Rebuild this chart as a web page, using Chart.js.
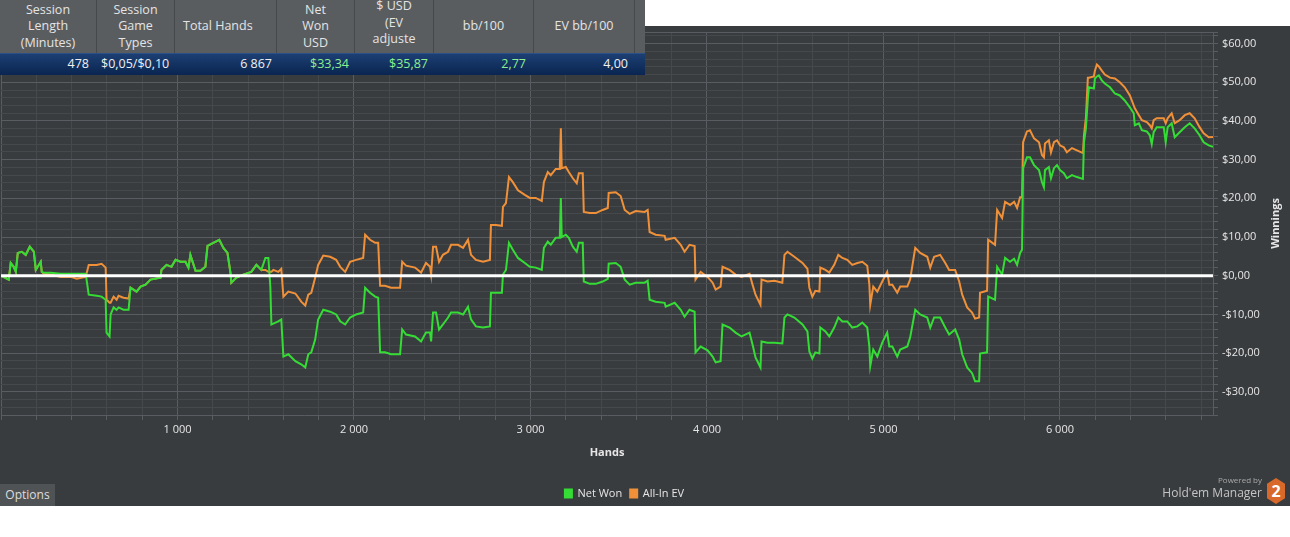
<!DOCTYPE html>
<html>
<head>
<meta charset="utf-8">
<script src="https://cdn.jsdelivr.net/npm/chart.js@4.4.1/dist/chart.umd.min.js"></script>
<style>
  body { margin: 0; background: #fff; width: 1290px; height: 537px; position: relative; overflow: hidden; font-family: "Open Sans", sans-serif; }
  #panel { position: absolute; left: 0; top: 26px; width: 1290px; height: 480px; background: #393c3f; }
  #chart { position: absolute; left: 0; top: 0; }
  #stats { position: absolute; left: 0; top: 0; width: 645px; height: 75px; background: #5a5d60; }
  .hd { position: absolute; top: 0; height: 53px; color: #e4e4e4; font-size: 12.5px; line-height: 16.5px; text-align: center; overflow: hidden; display: flex; flex-direction: column; justify-content: center; box-sizing: border-box; border-right: 1px solid #46494c; }
  .row { position: absolute; top: 53px; left: 0; width: 645px; height: 22px; background: linear-gradient(#1c3f73, #0a2550); border-top: 1px solid #2c4f85; box-sizing: border-box; }
  .cell { position: absolute; top: 53px; height: 22px; line-height: 22px; font-size: 12.5px; color: #f0f0f0; text-align: right; white-space: nowrap; }
  .pos { color: #8ef08e; }
  #opt { position: absolute; left: 0; top: 484px; width: 55px; height: 22px; background: #505356; color: #ddd; font-size: 12px; line-height: 22px; text-align: center; }
  #pow { position: absolute; left: 1180px; width: 82px; top: 474px; font-size: 8px; color: #a8a8a8; text-align: right; }
  #hem { position: absolute; left: 1140px; width: 122px; top: 484px; font-size: 12px; color: #c4c4c4; text-align: right; }
  #hex { position: absolute; left: 1267px; top: 478px; width: 18px; height: 26px; background: #d8692a; clip-path: polygon(50% 0, 100% 22%, 100% 78%, 50% 100%, 0 78%, 0 22%); color: #fff; font-weight: bold; font-size: 16px; line-height: 26px; text-align: center; }
</style>
</head>
<body>
<div id="panel"><canvas id="chart" width="1290" height="480"></canvas></div>

<div id="stats">
  <div class="hd" style="left:0;width:97px"><span>Session</span><span>Length</span><span>(Minutes)</span></div>
  <div class="hd" style="left:97px;width:78px"><span>Session</span><span>Game</span><span>Types</span></div>
  <div class="hd" style="left:175px;width:102px;text-align:left;padding-left:8px"><span>Total Hands</span></div>
  <div class="hd" style="left:277px;width:78px"><span>Net</span><span>Won</span><span>USD</span></div>
  <div class="hd" style="left:355px;width:79px;justify-content:flex-start"><span style="margin-top:-2px">$ USD</span><span>(EV</span><span>adjuste</span></div>
  <div class="hd" style="left:434px;width:100px"><span>bb/100</span></div>
  <div class="hd" style="left:534px;width:101px"><span>EV bb/100</span></div>
  <div class="row"></div>
  <div class="cell" style="left:0;width:89px">478</div>
  <div class="cell" style="left:101px;text-align:left">$0,05/$0,10</div>
  <div class="cell" style="left:175px;width:97px">6 867</div>
  <div class="cell pos" style="left:277px;width:72px">$33,34</div>
  <div class="cell pos" style="left:355px;width:73px">$35,87</div>
  <div class="cell pos" style="left:434px;width:92px">2,77</div>
  <div class="cell" style="left:534px;width:94px">4,00</div>
</div>

<div id="opt">Options</div>
<div id="pow">Powered by</div>
<div id="hem">Hold'em Manager</div>
<div id="hex">2</div>

<script>
const totalHands = 6867;

const hands = [
  0, 44, 55, 72, 84, 95, 118, 140, 163, 186,
  197, 225, 231, 242, 282, 338, 395, 429, 480, 497,
  542, 570, 593, 598, 615, 621, 638, 655, 666, 694,
  723, 734, 768, 791, 819, 847, 904, 909, 938, 966,
  989, 1017, 1045, 1062, 1073, 1102, 1130, 1158, 1170, 1203,
  1237, 1260, 1283, 1300, 1305, 1334, 1373, 1418, 1447, 1475,
  1498, 1515, 1526, 1532, 1543, 1571, 1588, 1600, 1628, 1668,
  1701, 1724, 1741, 1758, 1780, 1797, 1826, 1865, 1899, 1922,
  1950, 1978, 2012, 2052, 2063, 2091, 2120, 2137, 2148, 2176,
  2210, 2261, 2273, 2295, 2346, 2380, 2408, 2431, 2437, 2448,
  2465, 2482, 2504, 2533, 2550, 2589, 2618, 2646, 2663, 2691,
  2731, 2770, 2776, 2804, 2838, 2844, 2861, 2878, 2900, 2929,
  2968, 2996, 3030, 3064, 3076, 3098, 3115, 3143, 3166, 3172,
  3177, 3200, 3217, 3240, 3262, 3274, 3296, 3302, 3336, 3370,
  3409, 3438, 3443, 3483, 3511, 3534, 3562, 3596, 3647, 3664,
  3675, 3709, 3760, 3766, 3817, 3851, 3873, 3901, 3930, 3935,
  3964, 4003, 4032, 4049, 4077, 4088, 4128, 4162, 4196, 4241,
  4258, 4275, 4303, 4309, 4343, 4382, 4427, 4439, 4456, 4495,
  4541, 4569, 4580, 4597, 4614, 4637, 4642, 4671, 4693, 4721,
  4744, 4767, 4795, 4823, 4852, 4880, 4908, 4920, 4925, 4942,
  4965, 4993, 5021, 5033, 5050, 5078, 5095, 5135, 5151, 5180,
  5208, 5248, 5265, 5287, 5321, 5350, 5372, 5406, 5429, 5446,
  5474, 5502, 5519, 5542, 5547, 5587, 5593, 5632, 5644, 5672,
  5689, 5717, 5740, 5757, 5774, 5785, 5791, 5813, 5830, 5853,
  5881, 5898, 5909, 5915, 5937, 5949, 5966, 5983, 6000, 6022,
  6039, 6068, 6096, 6130, 6136, 6147, 6158, 6164, 6192, 6198,
  6209, 6220, 6237, 6254, 6283, 6311, 6339, 6367, 6396, 6418,
  6424, 6447, 6464, 6492, 6509, 6520, 6531, 6548, 6588, 6599,
  6610, 6633, 6650, 6678, 6707, 6735, 6763, 6791, 6814, 6843,
  6867
];

const netWon = [
  0, -1.0, 3.3, 2.3, 1.0, 5.9, 6.2, 5.4, 7.5, 6.2,
  1.5, 3.6, 1.0, 0.8, 0.8, 0.5, 0.5, 0.5, 0.5, -4.9,
  -5.2, -5.4, -6.2, -14.7, -15.7, -10.0, -8.2, -8.8, -8.2, -8.8,
  -8.8, -3.1, -4.1, -2.8, -2.3, -1.0, -0.5, 1.5, 2.8, 2.3,
  4.1, 3.6, 3.6, 2.1, 5.4, 1.3, 1.3, 2.3, 7.7, 8.5,
  9.3, 7.2, 5.9, 0.8, -1.8, -0.5, 0.3, 1.0, 2.8, 1.5,
  4.6, 4.6, -2.8, -12.6, -12.4, -11.8, -11.3, -20.9, -20.3, -22.1,
  -22.9, -23.7, -20.3, -19.8, -16.5, -11.3, -8.8, -9.3, -10.0, -11.8,
  -12.6, -10.8, -10.0, -9.5, -3.1, -4.4, -5.4, -5.7, -19.8, -19.8,
  -20.3, -20.3, -13.9, -15.2, -15.7, -17.0, -14.7, -14.7, -17.0, -9.5,
  -9.5, -13.9, -12.6, -10.8, -9.5, -9.5, -10.0, -8.0, -11.3, -13.1,
  -13.4, -13.1, -4.4, -4.4, -4.4, 0.3, 1.5, 8.5, 6.7, 4.6,
  3.3, 2.3, 2.1, 1.5, 7.2, 8.8, 8.0, 9.8, 9.8, 20.1,
  10.0, 10.6, 9.8, 7.5, 6.2, 8.5, 8.5, -1.5, -2.1, -2.1,
  -1.5, -0.8, 3.1, 3.3, 2.3, -1.0, -2.3, -1.8, -1.8, -1.3,
  -6.2, -6.7, -7.0, -8.0, -7.0, -8.8, -10.6, -8.8, -9.3, -19.8,
  -18.3, -19.3, -20.9, -22.4, -22.1, -12.6, -13.4, -14.7, -15.7, -14.7,
  -17.8, -21.1, -23.7, -17.0, -17.3, -17.3, -17.5, -10.8, -10.0, -10.8,
  -12.6, -14.4, -19.6, -21.4, -19.8, -20.1, -13.4, -14.4, -15.7, -13.4,
  -10.8, -11.8, -11.8, -13.4, -13.1, -12.1, -13.4, -18.3, -23.4, -19.1,
  -20.9, -17.3, -14.7, -18.3, -18.3, -20.9, -19.1, -18.3, -16.0, -8.8,
  -10.0, -10.8, -13.4, -10.8, -10.8, -13.4, -15.2, -13.9, -16.5, -20.3,
  -23.7, -25.2, -27.3, -27.3, -20.1, -19.8, -5.4, -6.2, 2.3, 0.3,
  4.6, 3.6, 4.4, 2.8, 5.9, 6.7, 27.8, 30.6, 30.6, 28.6,
  27.3, 24.2, 22.9, 27.3, 28.1, 25.2, 27.8, 28.6, 27.3, 26.5,
  25.2, 26.0, 25.5, 25.0, 34.5, 38.1, 45.8, 48.7, 48.4, 51.0,
  51.5, 51.8, 50.5, 49.7, 48.7, 47.1, 46.6, 45.3, 43.5, 42.0,
  38.9, 39.4, 37.6, 37.3, 36.3, 34.0, 37.1, 38.4, 38.4, 34.5,
  38.4, 39.4, 35.8, 37.1, 38.4, 39.4, 38.1, 36.3, 34.5, 33.7,
  33.34
];

const allInEv = [
  0, -1.0, 3.3, 2.3, 1.0, 5.9, 6.2, 5.4, 7.5, 6.2,
  1.5, 3.6, 1.0, 0.5, 0.3, -0.3, -0.3, -0.8, -0.3, 2.8,
  2.8, 3.1, 2.1, -6.2, -7.0, -7.0, -5.4, -6.2, -5.2, -5.7,
  -5.9, -3.1, -4.1, -2.8, -2.3, -1.0, -0.5, 1.5, 2.8, 2.3,
  4.1, 3.6, 3.6, 2.1, 5.4, 1.3, 1.3, 2.3, 7.7, 8.5,
  9.3, 7.2, 5.9, 0.8, -1.8, -0.5, 0.3, 1.0, 2.8, 1.5,
  1.5, 1.0, 1.0, 1.0, 1.5, 1.0, 1.8, -5.4, -4.1, -4.6,
  -6.7, -7.7, -4.9, -4.4, -0.5, 2.8, 5.2, 4.9, 4.1, 2.3,
  1.0, 3.6, 4.1, 4.6, 10.6, 9.3, 8.5, 8.5, -2.6, -2.6,
  -3.1, -3.1, 3.6, 2.6, 2.1, 0.8, 3.3, 2.3, 0.3, 7.5,
  7.5, 3.6, 5.4, 6.2, 8.0, 8.0, 7.2, 9.3, 5.4, 4.1,
  3.6, 4.1, 13.1, 13.1, 12.9, 17.8, 18.8, 25.5, 24.2, 22.1,
  20.9, 20.1, 20.1, 19.3, 24.2, 26.8, 26.0, 27.6, 27.6, 38.1,
  27.8, 28.1, 26.8, 25.2, 23.9, 26.5, 26.5, 16.5, 16.2, 16.2,
  17.0, 17.5, 21.4, 21.6, 20.6, 17.0, 16.0, 16.7, 16.5, 17.0,
  11.3, 10.6, 10.3, 9.3, 9.8, 8.0, 6.2, 8.0, 7.7, -1.0,
  1.0, -0.3, -1.8, -3.6, -2.8, 2.3, 1.5, 0.3, -0.3, 0.5,
  -2.3, -4.9, -7.5, -1.0, -1.5, -1.3, -1.8, 5.4, 6.2, 4.9,
  3.3, 1.8, -3.1, -5.4, -3.9, -4.1, 2.1, 1.5, 0.8, 2.8,
  5.4, 4.6, 4.1, 2.8, 3.3, 3.6, 2.6, -2.3, -7.5, -2.8,
  -4.1, -1.5, 1.0, -2.3, -2.3, -4.4, -2.8, -2.8, -1.0, 7.2,
  5.9, 4.9, 2.1, 4.9, 5.4, 3.3, 1.5, 1.5, -1.5, -4.9,
  -8.2, -9.5, -11.1, -10.8, -4.4, -3.9, 9.3, 8.0, 17.0, 14.9,
  19.1, 18.3, 19.1, 17.5, 20.3, 20.3, 34.5, 37.3, 37.6, 35.5,
  34.5, 31.2, 30.6, 34.2, 35.0, 31.9, 34.5, 35.0, 33.7, 33.2,
  31.9, 33.0, 32.4, 31.7, 36.3, 40.9, 51.2, 51.2, 51.5, 53.0,
  54.6, 54.1, 53.0, 52.0, 51.2, 51.0, 50.0, 48.7, 46.6, 44.0,
  43.3, 41.5, 40.2, 39.7, 38.9, 38.1, 40.2, 40.7, 40.7, 39.4,
  40.7, 42.0, 39.4, 40.2, 41.5, 42.0, 40.7, 38.4, 36.8, 35.8,
  35.87
];

const yMin = -36, yMax = 63, yStep = 2, yMajor = 10;
const xStep = 200, xMajor = 1000;

const fontFamily = '"Open Sans", sans-serif';
const textColor = '#e6e6e6';
const gridMinor = '#46494c';
const gridMajor = '#595c60';

function money(v) {
  const s = '$' + Math.abs(v).toFixed(2).replace('.', ',');
  return v < 0 ? '-' + s : s;
}
function handsLabel(v) {
  return String(v).replace(/\B(?=(\d{3})+(?!\d))/g, ' ');
}

const yTickValues = [];
for (let v = yMin; v <= yMax - 1; v += yStep) yTickValues.push(v);
yTickValues.push(yMax);
const xTickValues = [];
for (let v = 0; v < totalHands; v += xStep) xTickValues.push(v);

// legend nudged under the plot, zero line over the series, upward axis title
const overlay = {
  id: 'overlay',
  afterLayout(chart) {
    const lg = chart.legend;
    if (!lg) return;
    lg.left -= 21;
    lg.right -= 21;
    lg.top += 3;
    lg.bottom += 3;
  },
  afterDatasetsDraw(chart) {
    const { ctx, chartArea, scales } = chart;
    const y0 = scales.y.getPixelForValue(0);
    ctx.save();
    ctx.strokeStyle = '#ffffff';
    ctx.lineWidth = 3;
    ctx.beginPath();
    ctx.moveTo(chartArea.left, y0);
    ctx.lineTo(chartArea.right, y0);
    ctx.stroke();
    ctx.restore();
  },
  afterDraw(chart) {
    const { ctx, chartArea } = chart;
    ctx.save();
    ctx.translate(1276, (chartArea.top + chartArea.bottom) / 2);
    ctx.rotate(-Math.PI / 2);
    ctx.fillStyle = textColor;
    ctx.font = 'bold 11px ' + fontFamily;
    ctx.textAlign = 'center';
    ctx.textBaseline = 'middle';
    ctx.fillText('Winnings', 0, 0);
    ctx.restore();
  }
};

new Chart(document.getElementById('chart'), {
  type: 'line',
  data: {
    datasets: [
      {
        label: 'Net Won',
        data: hands.map((h, i) => ({ x: h, y: netWon[i] })),
        borderColor: '#35dc35',
        backgroundColor: '#35dc35',
        borderWidth: 2,
        pointRadius: 0,
        tension: 0,
      },
      {
        label: 'All-In EV',
        data: hands.map((h, i) => ({ x: h, y: allInEv[i] })),
        borderColor: '#f0913a',
        backgroundColor: '#f0913a',
        borderWidth: 2,
        pointRadius: 0,
        tension: 0,
      },
    ],
  },
  options: {
    responsive: false,
    animation: false,
    devicePixelRatio: 1,
    events: [],
    layout: { padding: { left: 1, top: 6, right: 0, bottom: 0 } },
    plugins: {
      legend: {
        position: 'bottom',
        labels: { color: textColor, font: { size: 11, family: fontFamily }, boxWidth: 7, boxHeight: 8, padding: 8 },
      },
      tooltip: { enabled: false },
    },
    scales: {
      x: {
        type: 'linear',
        min: 0,
        max: totalHands,
        afterBuildTicks: (s) => { s.ticks = xTickValues.map((v) => ({ value: v })); },
        afterFit: (s) => {
          const lg = s.chart.legend;
          const lh = lg && lg.height ? lg.height : 29;
          s.height = s.chart.height - lh - 389;
          s.paddingLeft = 0;
          s.paddingRight = 0;
        },
        ticks: {
          autoSkip: false,
          maxRotation: 0,
          padding: 3,
          color: textColor,
          font: { size: 11, family: fontFamily },
          callback: (v) => (v > 0 && v % xMajor === 0 ? handsLabel(v) : ''),
        },
        grid: {
          color: (c) => (c.tick && c.tick.value % xMajor === 0 ? gridMajor : gridMinor),
          tickColor: gridMajor,
          tickLength: 5,
        },
        border: { color: gridMajor },
        title: {
          display: true,
          text: 'Hands',
          color: textColor,
          font: { size: 11, weight: 'bold', family: fontFamily },
          padding: { top: 0, bottom: 18 },
        },
      },
      y: {
        position: 'right',
        min: yMin,
        max: yMax,
        afterBuildTicks: (s) => { s.ticks = yTickValues.map((v) => ({ value: v })); },
        afterFit: (s) => {
          s.width = 77;
          s.paddingTop = 0;
          s.paddingBottom = 0;
        },
        ticks: {
          autoSkip: false,
          padding: 4,
          color: textColor,
          font: { size: 11, family: fontFamily },
          callback: (v) => (v % yMajor === 0 ? money(v) : ''),
        },
        grid: {
          color: (c) => (c.tick && (c.tick.value % yMajor === 0 || c.tick.value === yMax) ? gridMajor : gridMinor),
          tickColor: gridMajor,
          tickLength: 5,
        },
        border: { color: gridMajor },
      },
    },
  },
  plugins: [overlay],
});
</script>
</body>
</html>
